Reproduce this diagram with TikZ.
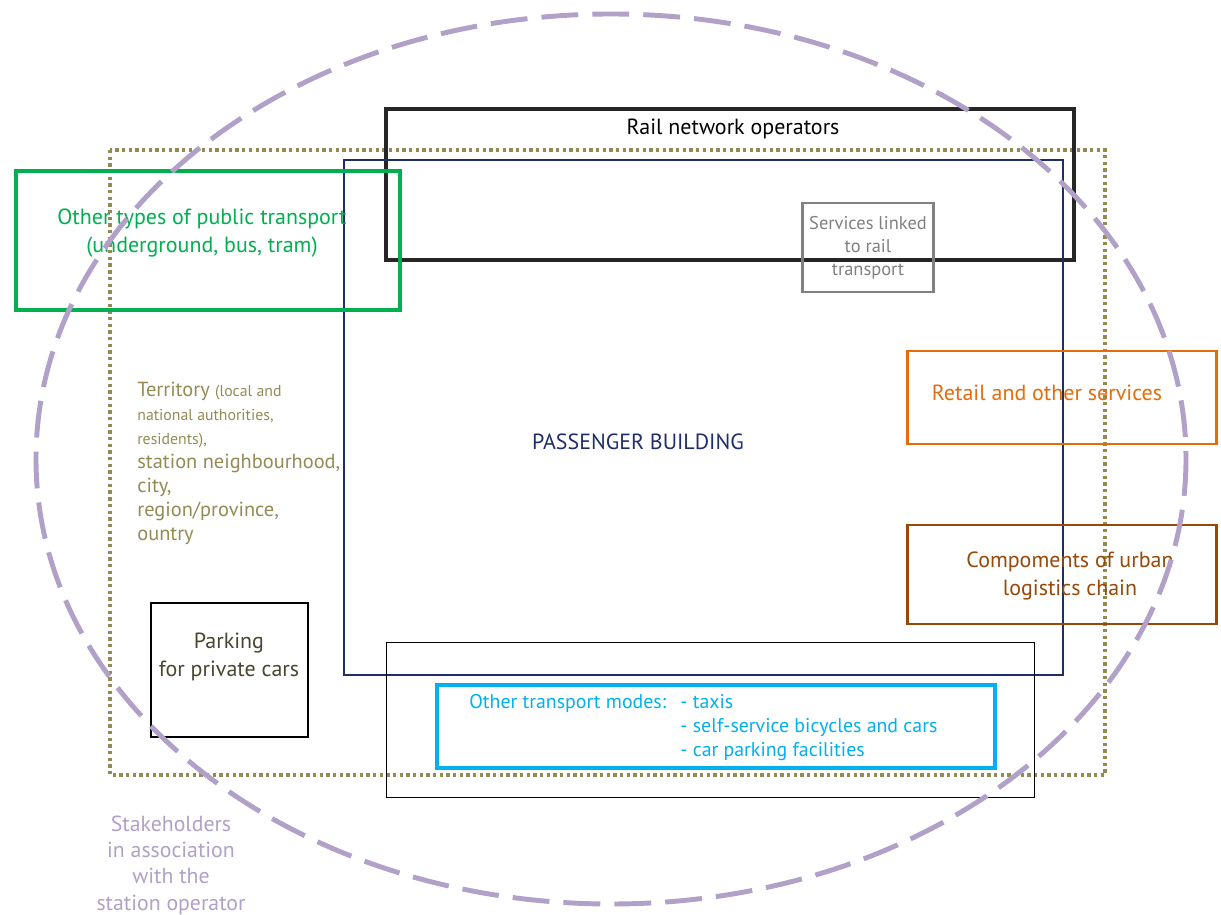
\documentclass[tikz,border=0pt]{standalone}
\usepackage{fontspec}
\setmainfont{PT Sans}
\usetikzlibrary{positioning}

\definecolor{stkpurple}{HTML}{B1A0C7}
\definecolor{terrolive}{HTML}{948A54}
\definecolor{ptgreen}{HTML}{00B050}
\definecolor{bldnavy}{HTML}{1F2D6B}
\definecolor{retorange}{HTML}{E46C0A}
\definecolor{logbrown}{HTML}{984807}
\definecolor{modcyan}{HTML}{00B0F0}
\definecolor{srvgrey}{HTML}{808080}
\definecolor{parkbrown}{HTML}{4A4530}

\tikzset{
    boxtext/.style={inner sep=0pt, align=center, font=\fontsize{12.5}{15.5}\selectfont},
    smalltext/.style={inner sep=0pt, align=center, font=\fontsize{10.5}{13}\selectfont},
}

\begin{document}
\begin{tikzpicture}[x=0.02cm,y=-0.02cm]
    \useasboundingbox (0,0) rectangle (1221,915);
    % territory
    \draw[terrolive, line width=2pt, dash pattern=on 1.9pt off 1.9pt] (110,150) rectangle (1105,775);
    \node[anchor=north west, inner sep=0pt, align=left, text=terrolive,
          font=\fontsize{11.6}{13.6}\selectfont] (territory) at (137,382)
        {Territory {\fontsize{9}{12}\selectfont(local and}\\
         {\fontsize{9}{12.5}\selectfont national authorities,}\\
         {\fontsize{9}{14}\selectfont residents),}\\
         station neighbourhood,\\ city,\\ region/province,\\ ountry};
    % rail network
    \draw[black!85, line width=2pt] (386,109) rectangle (1074,260);
    \node[boxtext] (rail) at (733,129) {Rail network operators};
    % passenger building
    \draw[bldnavy, line width=1.2pt] (344,160) rectangle (1063,675);
    \node[boxtext, text=bldnavy] (building) at (638,442) {PASSENGER BUILDING};
    % services
    \draw[srvgrey, line width=1.7pt] (802,203) rectangle (933,292);
    \node[smalltext, text=srvgrey] (services) at (868,248) {Services linked\\to rail\\transport};
    % public transport
    \draw[ptgreen, line width=1.9pt] (16,171) rectangle (400,310);
    \node[boxtext, text=ptgreen] (public) at (202,233) {Other types of public transport\\(underground, bus, tram)};
    % retail
    \draw[retorange, line width=1.7pt] (907,351) rectangle (1216,444);
    \node[boxtext, text=retorange] (retail) at (1047,393) {Retail and other services};
    % logistics
    \draw[logbrown, line width=1.7pt] (907,525) rectangle (1216,624);
    \node[boxtext, text=logbrown] (logistics) at (1070,576) {Compoments of urban\\logistics chain};
    % parking
    \draw[black, line width=1.3pt] (151,603) rectangle (308,737);
    \node[boxtext, text=parkbrown] (parking) at (229,657) {Parking\\for private cars};
    % other modes
    \draw[black, line width=0.5pt] (386,642) rectangle (1034,797);
    \draw[modcyan, line width=1.8pt] (437,685) rectangle (995,768);
    \node[anchor=west, inner sep=0pt, text=modcyan, font=\fontsize{11.3}{13.7}\selectfont] (modes) at (469,703) {Other transport modes:};
    \node[anchor=north west, inner sep=0pt, align=left, text=modcyan,
          font=\fontsize{11.3}{13.7}\selectfont] (modelist) at (680,694)
        {- taxis\\- self-service bicycles and cars\\- car parking facilities};
    % stakeholders
    \draw[stkpurple, line width=2.8pt, dash pattern=on 21pt off 8pt] (611,459) ellipse [x radius=575, y radius=445];
    \node[inner sep=0pt, align=center, text=stkpurple, font=\fontsize{12.4}{15}\selectfont] (stake) at (171,865)
        {Stakeholders\\in association\\with the\\station operator};
\end{tikzpicture}
\end{document}
